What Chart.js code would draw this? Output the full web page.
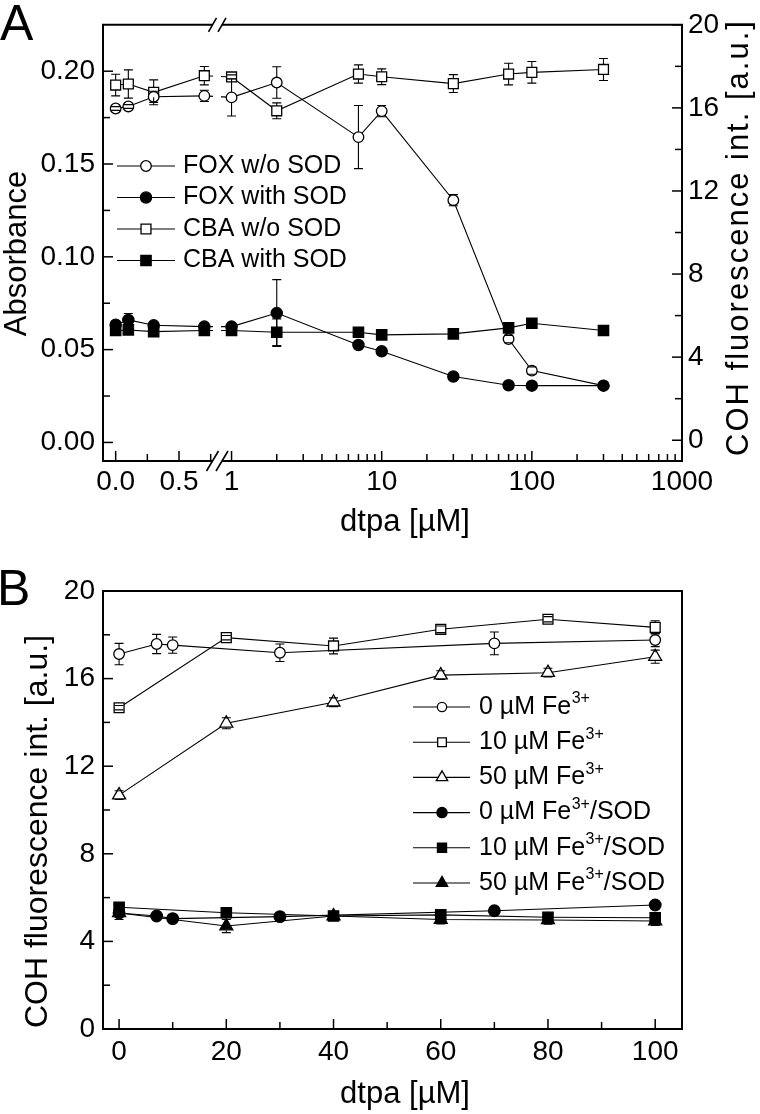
<!DOCTYPE html>
<html>
<head>
<meta charset="utf-8">
<title>dtpa - FOX / CBA</title>
<script src="https://cdn.jsdelivr.net/npm/chart.js"></script>
<style>
  html, body { margin: 0; padding: 0; background: #fff; }
  #wrap { position: relative; width: 760px; height: 1114px; overflow: hidden; }
  #wrap canvas { position: absolute; left: 0; }
  #chartA { top: 0; }
  #chartB { top: 545px; }
</style>
</head>
<body>
<div id="wrap">
  <canvas id="chartA" width="760" height="545"></canvas>
  <canvas id="chartB" width="760" height="569"></canvas>
</div>
<script>
// --- Panel A: dtpa axis is broken, linear part then log part ---
const dtpaLow = [0, 0.1, 0.3, 0.7];
const dtpaHigh = [1, 2, 7, 10, 30, 70, 100, 300];

const foxNoSod    = [0.1799, 0.181, 0.1862, 0.1867, 0.1859, 0.1939, 0.1645, 0.1785, 0.1305, 0.0557, 0.0387, 0.0306];
const foxNoSodErr = [0.001, 0.001, 0.003, 0.003, 0.010, 0.0085, 0.017, 0.003, 0.003, 0.002, 0.002, 0];
const foxSod      = [0.0634, 0.066, 0.0631, 0.0624, 0.0624, 0.0697, 0.0525, 0.0491, 0.0355, 0.0308, 0.0306, 0.0306];
const foxSodErr   = [0.001, 0.0035, 0.001, 0.001, 0.001, 0.018, 0.001, 0.001, 0.001, 0.001, 0.001, 0.001];
const cbaNoSod    = [17.1, 17.15, 16.75, 17.55, 17.49, 15.86, 17.63, 17.5, 17.17, 17.63, 17.71, 17.85];
const cbaNoSodErr = [0.52, 0.68, 0.6, 0.44, 0.1, 0.38, 0.44, 0.38, 0.43, 0.52, 0.52, 0.53];
const cbaSod      = [5.28, 5.31, 5.23, 5.28, 5.28, 5.2, 5.2, 5.07, 5.12, 5.41, 5.63, 5.28];
const cbaSodErr   = [0.1, 0.2, 0.1, 0.1, 0.1, 0.64, 0.1, 0.1, 0.1, 0.1, 0.1, 0.1];

const legendA = ['FOX w/o SOD', 'FOX with SOD', 'CBA w/o SOD', 'CBA with SOD'];

const absTicks = [0, 0.05, 0.10, 0.15, 0.20];
const flTicks = [0, 4, 8, 12, 16, 20];
const linTicks = [0, 0.5];
const logTicks = [1, 10, 100, 1000];

// --- Panel B ---
const dtpaB1 = [0, 7, 10, 30, 70, 100];
const dtpaB2 = [0, 20, 40, 60, 80, 100];

const fe0        = [17.12, 17.58, 17.53, 17.18, 17.61, 17.76];
const fe0Err     = [0.49, 0.44, 0.37, 0.4, 0.52, 0.3];
const fe10       = [14.67, 17.87, 17.49, 18.25, 18.71, 18.34];
const fe10Err    = [0.1, 0.1, 0.36, 0.15, 0.12, 0.3];
const fe50       = [10.68, 13.96, 14.92, 16.16, 16.27, 17.0];
const fe50Err    = [0.2, 0.25, 0.2, 0.2, 0.2, 0.3];
const fe0Sod     = [5.3, 5.16, 5.04, 5.13, 5.4, 5.66];
const fe0SodErr  = [0.15, 0.1, 0.1, 0.1, 0.1, 0.15];
const fe10Sod    = [5.56, 5.31, 5.16, 5.21, 5.1, 5.08];
const fe10SodErr = [0.15, 0.15, 0.15, 0.15, 0.15, 0.15];
const fe50Sod    = [5.3, 4.7, 5.16, 5.0, 4.98, 4.93];
const fe50SodErr = [0.3, 0.3, 0.2, 0.2, 0.2, 0.2];

// label parts: [text, superscript, tail]
const legendB = [
    ['0 µM Fe', '3+', ''], ['10 µM Fe', '3+', ''], ['50 µM Fe', '3+', ''],
    ['0 µM Fe', '3+', '/SOD'], ['10 µM Fe', '3+', '/SOD'], ['50 µM Fe', '3+', '/SOD']
];
const bTicksY = [0, 4, 8, 12, 16, 20];
const bTicksX = [0, 20, 40, 60, 80, 100];

// ---------------------------------------------------------------
const FONT = "'Liberation Sans', Arial, Helvetica, sans-serif";
const LINE_W = 1.1;
Chart.defaults.font.family = FONT;
Chart.defaults.color = '#000';

function pts(xs, ys) { return xs.map((x, i) => ({ x: x, y: ys[i] })); }

function series(label, xs, ys, errs, style, r, filled, xAxis, yAxis) {
    return {
        label: label, data: pts(xs, ys), errors: errs,
        showLine: true, borderColor: '#000', borderWidth: LINE_W, tension: 0,
        pointStyle: style, pointRadius: r, pointHoverRadius: r, pointBorderWidth: 1.3,
        pointBackgroundColor: filled ? '#000' : '#fff', pointBorderColor: '#000',
        order: filled ? 0 : 1,   // filled symbols end up on top
        xAxisID: xAxis, yAxisID: yAxis
    };
}

const nLow = dtpaLow.length;
function splitSeries(label, ys, errs, style, r, filled, yAxis) {
    return [
        series(label, dtpaLow, ys.slice(0, nLow), errs.slice(0, nLow), style, r, filled, 'xLin', yAxis),
        series(label, dtpaHigh, ys.slice(nLow), errs.slice(nLow), style, r, filled, 'xLog', yAxis)
    ];
}

function midpoints(arr) { return arr.slice(1).map((v, i) => (v + arr[i]) / 2); }

function markerGap(ds) {
    const r = ds.pointRadius;
    if (ds.pointStyle === 'rect') return r * Math.SQRT1_2;
    if (ds.pointStyle === 'triangle') return r * 0.6;
    return r;
}

// error bars on top of the symbols, stem outside the symbol only
function drawErrorBars(chart) {
    const ctx = chart.ctx;
    ctx.save();
    ctx.strokeStyle = '#000';
    ctx.lineWidth = 1.1;
    chart.data.datasets.forEach((ds, i) => {
        if (!ds.errors) return;
        const meta = chart.getDatasetMeta(i);
        const xs = chart.scales[meta.xAxisID], ys = chart.scales[meta.yAxisID];
        const gap = markerGap(ds);
        ds.data.forEach((p, j) => {
            const e = ds.errors[j];
            if (!e) return;
            const px = xs.getPixelForValue(p.x), py = ys.getPixelForValue(p.y);
            const yt = ys.getPixelForValue(p.y + e), yb = ys.getPixelForValue(p.y - e);
            ctx.beginPath();
            if (py - yt > gap) { ctx.moveTo(px, py - gap); ctx.lineTo(px, yt); }
            if (yb - py > gap) { ctx.moveTo(px, py + gap); ctx.lineTo(px, yb); }
            ctx.moveTo(px - 4.5, yt); ctx.lineTo(px + 4.5, yt);
            ctx.moveTo(px - 4.5, yb); ctx.lineTo(px + 4.5, yb);
            ctx.stroke();
        });
    });
    ctx.restore();
}

function drawTicks(chart, specs) {
    const ctx = chart.ctx, a = chart.chartArea;
    ctx.save();
    ctx.strokeStyle = '#000';
    ctx.lineWidth = 1.5;
    specs.forEach(s => {
        const sc = chart.scales[s.id];
        const one = (v, len) => {
            const p = sc.getPixelForValue(v);
            ctx.beginPath();
            if (s.side === 'left') { ctx.moveTo(a.left, p); ctx.lineTo(a.left + len, p); }
            else if (s.side === 'right') { ctx.moveTo(a.right, p); ctx.lineTo(a.right - len, p); }
            else { ctx.moveTo(p, a.bottom); ctx.lineTo(p, a.bottom - len); }
            ctx.stroke();
        };
        s.major.forEach(v => one(v, 10));
        s.minor.forEach(v => one(v, 7));
    });
    ctx.restore();
}

function drawMarker(ctx, style, r, filled, x, y) {
    ctx.save();
    ctx.fillStyle = filled ? '#000' : '#fff';
    ctx.strokeStyle = '#000';
    ctx.lineWidth = 1.3;
    Chart.helpers.drawPoint(ctx, { pointStyle: style, radius: r, rotation: 0, borderWidth: 1.3 }, x, y);
    ctx.restore();
}

function drawRich(ctx, parts, x, y, size, supSize) {
    ctx.textAlign = 'left';
    ctx.textBaseline = 'middle';
    ctx.font = size + 'px ' + FONT;
    ctx.fillText(parts[0], x, y);
    x += ctx.measureText(parts[0]).width;
    if (parts[1]) {
        ctx.font = supSize + 'px ' + FONT;
        ctx.fillText(parts[1], x + 0.5, y - 8);
        x += ctx.measureText(parts[1]).width + 0.5;
    }
    if (parts[2]) {
        ctx.font = size + 'px ' + FONT;
        ctx.fillText(parts[2], x, y);
    }
}

function drawLegend(chart, rows, styleFrom, geo) {
    const ctx = chart.ctx;
    ctx.save();
    ctx.fillStyle = '#000';
    rows.forEach((parts, i) => {
        const ds = styleFrom[i];
        const y = geo.y0 + i * geo.dy;
        ctx.strokeStyle = '#000';
        ctx.lineWidth = LINE_W;
        ctx.beginPath();
        ctx.moveTo(geo.x1, y); ctx.lineTo(geo.x2, y);
        ctx.stroke();
        drawMarker(ctx, ds.pointStyle, ds.pointRadius * geo.scale, ds.pointBackgroundColor === '#000', geo.xm, y);
        ctx.fillStyle = '#000';
        drawRich(ctx, Array.isArray(parts) ? parts : [parts], geo.xt, y, geo.size, geo.sup);
    });
    ctx.restore();
}

function drawTitle(ctx, text, x, y, size, rotate, spacing) {
    ctx.save();
    ctx.fillStyle = '#000';
    ctx.font = size + 'px ' + FONT;
    if (spacing && 'letterSpacing' in ctx) ctx.letterSpacing = spacing;
    ctx.translate(x, y);
    if (rotate) ctx.rotate(-Math.PI / 2);
    ctx.textAlign = 'center';
    ctx.textBaseline = 'middle';
    ctx.fillText(text, 0, 0);
    ctx.restore();
}

function hideAxis() {
    return { grid: { display: false, drawTicks: false }, border: { display: false } };
}

// ---------------------------- Panel A ----------------------------
const dsA = [].concat(
    splitSeries(legendA[0], foxNoSod, foxNoSodErr, 'circle', 5.3, false, 'yAbs'),
    splitSeries(legendA[1], foxSod, foxSodErr, 'circle', 5.6, true, 'yAbs'),
    splitSeries(legendA[2], cbaNoSod, cbaNoSodErr, 'rect', 7, false, 'yFl'),
    splitSeries(legendA[3], cbaSod, cbaSodErr, 'rect', 7.3, true, 'yFl')
);

const logMinor = [];
[1, 10, 100].forEach(d => { for (let k = 2; k <= 9; k++) logMinor.push(k * d); });

const decorA = {
    id: 'decorA',
    beforeDatasetsDraw(chart) {
        // segment from 0.7 to 1 crosses the break, cut out around it
        const ctx = chart.ctx, a = chart.chartArea;
        const bx = chart.scales.xLin.right;
        ctx.save();
        ctx.beginPath();
        ctx.rect(a.left, a.top, bx - 4 - a.left, a.bottom - a.top);
        ctx.rect(bx + 4, a.top, a.right - bx - 4, a.bottom - a.top);
        ctx.clip();
        ctx.strokeStyle = '#000';
        ctx.lineWidth = LINE_W;
        for (let k = 0; k < chart.data.datasets.length; k += 2) {
            const m1 = chart.getDatasetMeta(k), m2 = chart.getDatasetMeta(k + 1);
            const p1 = m1.data[m1.data.length - 1], p2 = m2.data[0];
            ctx.beginPath();
            ctx.moveTo(p1.x, p1.y);
            ctx.lineTo(p2.x, p2.y);
            ctx.stroke();
        }
        ctx.restore();
    },
    afterDatasetsDraw(chart) { drawErrorBars(chart); },
    afterDraw(chart) {
        const ctx = chart.ctx, a = chart.chartArea;
        const bx = chart.scales.xLin.right;
        const g1 = bx - 4.5, g2 = bx + 5;
        ctx.save();
        ctx.strokeStyle = '#000';
        ctx.lineWidth = 2;
        ctx.beginPath();
        ctx.moveTo(g1, a.top); ctx.lineTo(a.left, a.top); ctx.lineTo(a.left, a.bottom); ctx.lineTo(g1, a.bottom);
        ctx.moveTo(g2, a.bottom); ctx.lineTo(a.right, a.bottom); ctx.lineTo(a.right, a.top); ctx.lineTo(g2, a.top);
        ctx.stroke();
        // break marks
        ctx.lineWidth = 1.6;
        ctx.beginPath();
        [g1, g2].forEach(cx => {
            ctx.moveTo(cx - 4, a.top + 7); ctx.lineTo(cx + 4, a.top - 7);
            ctx.moveTo(cx - 6, a.bottom + 10); ctx.lineTo(cx + 6, a.bottom - 10);
        });
        ctx.stroke();
        ctx.restore();

        drawTicks(chart, [
            { id: 'yAbs', side: 'left', major: absTicks, minor: midpoints(absTicks) },
            { id: 'yFl', side: 'right', major: flTicks, minor: midpoints(flTicks) },
            { id: 'xLin', side: 'bottom', major: linTicks, minor: [0.25, 0.75] },
            { id: 'xLog', side: 'bottom', major: logTicks, minor: logMinor }
        ]);

        drawTitle(ctx, 'Absorbance', 17.5, 253.5, 31, true);
        drawTitle(ctx, 'COH fluorescence int. [a.u.]', 739, 237.5, 31, true, '2px');
        drawTitle(ctx, 'dtpa [µM]', 405, 522, 31, false);

        ctx.save();
        ctx.fillStyle = '#000';
        ctx.font = '50px ' + FONT;
        ctx.textAlign = 'left';
        ctx.textBaseline = 'alphabetic';
        ctx.fillText('A', 0, 40);
        ctx.restore();

        const ds = chart.data.datasets;
        drawLegend(chart, legendA, [ds[0], ds[2], ds[4], ds[6]],
            { y0: 166, dy: 31.5, x1: 117, x2: 175, xm: 146, xt: 183, size: 25, sup: 16, scale: 1 });
    }
};

new Chart(document.getElementById('chartA'), {
    type: 'scatter',
    data: { datasets: dsA },
    options: {
        responsive: false,
        animation: false,
        events: [],
        layout: { padding: { top: 23, left: 0, right: 0, bottom: 0 } },
        plugins: { legend: { display: false }, tooltip: { enabled: false } },
        scales: {
            xLin: Object.assign(hideAxis(), {
                type: 'linear', position: 'bottom', stack: 'dtpa', stackWeight: 114,
                min: -0.1, max: 0.8,
                ticks: { padding: 4, font: { size: 28 }, autoSkip: false, maxRotation: 0, callback: v => v.toFixed(1) },
                afterBuildTicks: s => { s.ticks = linTicks.map(v => ({ value: v })); },
                afterFit: s => { s.height = 84; }
            }),
            xLog: Object.assign(hideAxis(), {
                type: 'logarithmic', position: 'bottom', stack: 'dtpa', stackWeight: 465,
                min: 0.8, max: 1000,
                ticks: { padding: 4, font: { size: 28 }, autoSkip: false, maxRotation: 0, callback: v => String(v) },
                afterBuildTicks: s => { s.ticks = logTicks.map(v => ({ value: v })); },
                afterFit: s => { s.height = 84; }
            }),
            yAbs: Object.assign(hideAxis(), {
                type: 'linear', position: 'left', min: -0.01, max: 0.225,
                ticks: { padding: 8, font: { size: 28 }, callback: v => v.toFixed(2) },
                afterBuildTicks: s => { s.ticks = absTicks.map(v => ({ value: v })); },
                afterFit: s => { s.width = 103; }
            }),
            yFl: Object.assign(hideAxis(), {
                type: 'linear', position: 'right', min: -1, max: 20,
                ticks: { padding: 6, font: { size: 28 }, callback: v => String(v) },
                afterBuildTicks: s => { s.ticks = flTicks.map(v => ({ value: v })); },
                afterFit: s => { s.width = 78; }
            })
        }
    },
    plugins: [decorA]
});

// ---------------------------- Panel B ----------------------------
const dsB = [
    series(legendB[0].join(''), dtpaB1, fe0, fe0Err, 'circle', 5.3, false, 'x', 'y'),
    series(legendB[1].join(''), dtpaB2, fe10, fe10Err, 'rect', 7, false, 'x', 'y'),
    series(legendB[2].join(''), dtpaB2, fe50, fe50Err, 'triangle', 7.5, false, 'x', 'y'),
    series(legendB[3].join(''), dtpaB1, fe0Sod, fe0SodErr, 'circle', 5.8, true, 'x', 'y'),
    series(legendB[4].join(''), dtpaB2, fe10Sod, fe10SodErr, 'rect', 7.3, true, 'x', 'y'),
    series(legendB[5].join(''), dtpaB2, fe50Sod, fe50SodErr, 'triangle', 7.5, true, 'x', 'y')
];

const decorB = {
    id: 'decorB',
    afterDatasetsDraw(chart) { drawErrorBars(chart); },
    afterDraw(chart) {
        const ctx = chart.ctx, a = chart.chartArea;
        ctx.save();
        ctx.strokeStyle = '#000';
        ctx.lineWidth = 2;
        ctx.strokeRect(a.left, a.top, a.right - a.left, a.bottom - a.top);
        ctx.restore();

        drawTicks(chart, [
            { id: 'y', side: 'left', major: bTicksY, minor: midpoints(bTicksY) },
            { id: 'x', side: 'bottom', major: bTicksX, minor: midpoints(bTicksX) }
        ]);

        drawTitle(ctx, 'COH fluorescence int. [a.u.]', 38, 286.5, 32, true);
        drawTitle(ctx, 'dtpa [µM]', 405, 549, 31, false);

        ctx.save();
        ctx.fillStyle = '#000';
        ctx.font = '50px ' + FONT;
        ctx.textAlign = 'left';
        ctx.textBaseline = 'alphabetic';
        ctx.fillText('B', -3, 60);
        ctx.restore();

        drawLegend(chart, legendB, chart.data.datasets,
            { y0: 162, dy: 35.2, x1: 413, x2: 470, xm: 442, xt: 479, size: 25, sup: 16, scale: 0.88 });
    }
};

new Chart(document.getElementById('chartB'), {
    type: 'scatter',
    data: { datasets: dsB },
    options: {
        responsive: false,
        animation: false,
        events: [],
        layout: { padding: { top: 46, left: 0, right: 78, bottom: 0 } },
        plugins: { legend: { display: false }, tooltip: { enabled: false } },
        scales: {
            x: Object.assign(hideAxis(), {
                type: 'linear', position: 'bottom', min: -3, max: 105,
                ticks: { padding: 6, font: { size: 28 }, autoSkip: false, maxRotation: 0, callback: v => String(v) },
                afterBuildTicks: s => { s.ticks = bTicksX.map(v => ({ value: v })); },
                afterFit: s => { s.height = 85; }
            }),
            y: Object.assign(hideAxis(), {
                type: 'linear', position: 'left', min: 0, max: 20,
                ticks: { padding: 8, font: { size: 28 }, callback: v => String(v) },
                afterBuildTicks: s => { s.ticks = bTicksY.map(v => ({ value: v })); },
                afterFit: s => { s.width = 103; }
            })
        }
    },
    plugins: [decorB]
});
</script>
</body>
</html>
